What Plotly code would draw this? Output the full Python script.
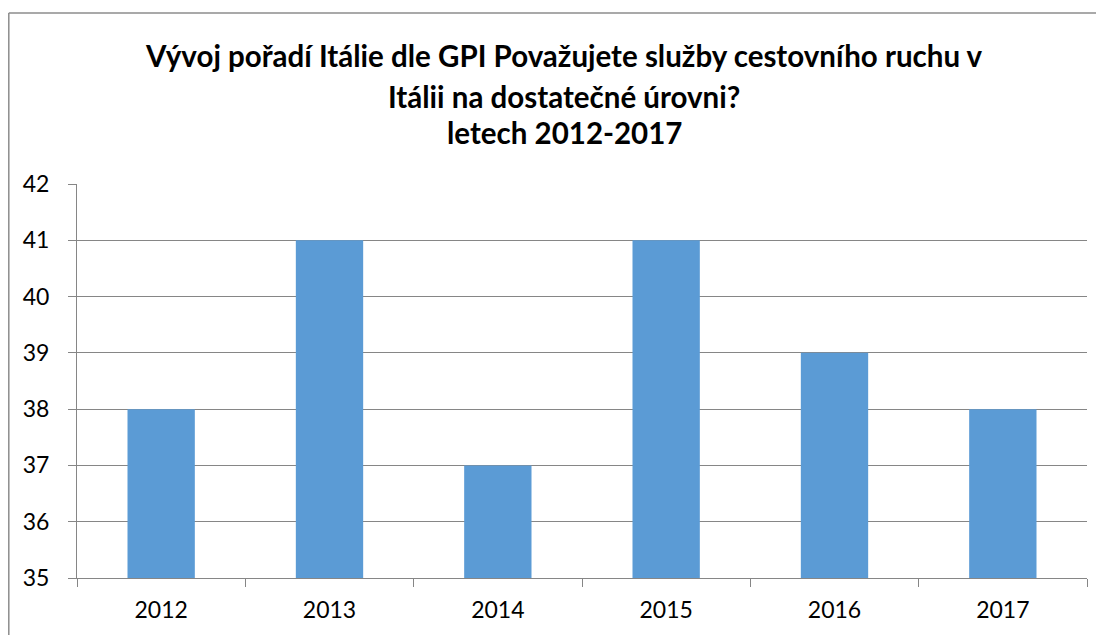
import plotly.graph_objects as go

years = ["2012", "2013", "2014", "2015", "2016", "2017"]
rank = [38, 41, 37, 41, 39, 38]
title_lines = [
    "Vývoj pořadí Itálie dle GPI Považujete služby cestovního ruchu v",
    "Itálii na dostatečné úrovni?",
    "letech 2012-2017",
]

OFF = 8  # page body margin
W, H = 1104 - OFF, 635 - OFF
L, R, T, B = 77 - OFF, 1087 - OFF, 184 - OFF, 578 - OFF
pw, ph = R - L, B - T

def px(x):
    return (x - OFF - L) / pw

def py(y):
    return (B - (y - OFF)) / ph

fig = go.Figure()
fig.add_trace(go.Bar(x=years, y=rank, marker=dict(color="#5B9BD5", line=dict(width=0)),
                     hoverinfo="x+y"))

font_family = "Lato, Open Sans, sans-serif"
grid = "#868686"

fig.update_layout(
    width=W, height=H,
    margin=dict(l=L, r=W - R, t=T, b=H - B),
    paper_bgcolor="white", plot_bgcolor="white",
    showlegend=False,
    bargap=0.6,
    font=dict(family=font_family, color="#000000", size=23),
    xaxis=dict(type="category", showline=True, linecolor=grid, linewidth=1,
               ticks="outside", tickson="boundaries", ticklen=8, tickcolor=grid,
               ticklabelstandoff=11,
               showgrid=False, tickfont=dict(size=23, color="#000000")),
    yaxis=dict(range=[35, 42], dtick=1, showline=True, linecolor=grid, linewidth=1,
               ticks="outside", ticklen=8, tickcolor=grid, ticklabelstandoff=14,
               showgrid=True, gridcolor=grid, gridwidth=1, zeroline=False,
               tickfont=dict(size=23, color="#000000")),
)

cx = px(564)
for line, yc in zip(title_lines, [56, 96, 133]):
    fig.add_annotation(text="<b>" + line + "</b>", x=cx, y=py(yc), xref="paper", yref="paper",
                       xanchor="center", yanchor="middle", showarrow=False,
                       font=dict(size=29.5, family=font_family, color="#000000"))

# chart border (left and top edges visible)
fig.add_shape(type="line", xref="paper", yref="paper", x0=px(8.8), x1=px(8.8), y0=py(13), y1=py(645),
              line=dict(color="#8c8c8c", width=1.5))
fig.add_shape(type="line", xref="paper", yref="paper", x0=px(8.8), x1=px(1115), y0=py(13), y1=py(13),
              line=dict(color="#8c8c8c", width=1.5))

fig.write_html("out.html")
